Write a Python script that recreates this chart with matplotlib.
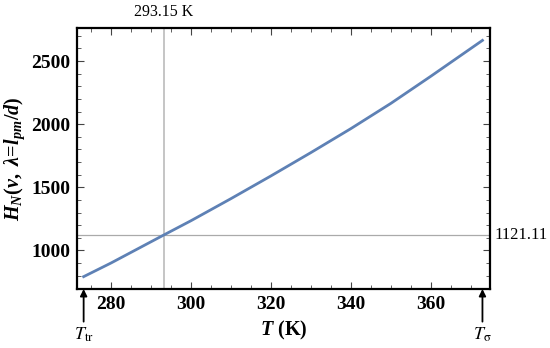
import matplotlib
matplotlib.use("Agg")
import matplotlib.pyplot as plt
from matplotlib.ticker import MultipleLocator

# temperatures (K) and values
T = [273.16, 280, 293.15, 300, 310, 320, 330, 340, 350, 360, 372.9]
H = [792, 900, 1121.11, 1235, 1410, 1590, 1775, 1965, 2165, 2380, 2664]

T_ref = 293.15
H_ref = 1121.11
T_tr = 273.16
T_sigma = 372.9

plt.rcParams["font.family"] = "Liberation Serif"
plt.rcParams["mathtext.fontset"] = "custom"
plt.rcParams["mathtext.rm"] = "Liberation Serif:bold"
plt.rcParams["mathtext.it"] = "Liberation Serif:bold:italic"
plt.rcParams["mathtext.bf"] = "Liberation Serif:bold"

fig = plt.figure(figsize=(5.5, 3.48), dpi=100)
ax = fig.add_axes([0.14, 0.1695, 0.751, 0.75])

ax.axvline(T_ref, color="#bbbbbb", lw=1.2, zorder=1)
ax.axhline(H_ref, color="#aaaaaa", lw=0.9, zorder=1)
ax.plot(T, H, color="#5E81B5", lw=2, zorder=2)

ax.set_xlim(271.5, 374.8)
ax.set_ylim(694, 2762)
ax.xaxis.set_major_locator(MultipleLocator(20))
ax.xaxis.set_minor_locator(MultipleLocator(5))
ax.yaxis.set_major_locator(MultipleLocator(500))
ax.yaxis.set_minor_locator(MultipleLocator(100))
ax.tick_params(which="both", direction="in", top=True, right=True, color="#444444")
ax.tick_params(which="major", length=5, width=0.8, labelsize=14, pad=5)
ax.tick_params(which="minor", length=3, width=0.6)
for lbl in ax.get_xticklabels() + ax.get_yticklabels():
    lbl.set_fontweight("bold")
for s in ax.spines.values():
    s.set_linewidth(1.6)

ax.set_xlabel(r"$T$ (K)", fontsize=14.5, fontweight="bold", labelpad=4)
ax.set_ylabel(r"$H_N(v,\ \lambda\!=\!l_{pm}/d)$", fontsize=14.5, labelpad=3)

# reference labels
ax.text(T_ref, 1.03, "293.15 K", transform=ax.get_xaxis_transform(),
        ha="center", va="bottom", fontsize=11.5)
ax.text(1.01, H_ref, "1121.11", transform=ax.get_yaxis_transform(),
        ha="left", va="center", fontsize=12)

# arrows marking T_tr and T_sigma
tr = ax.get_xaxis_transform()
for tx, lab in [(T_tr, r"$T_{\mathrm{tr}}$"), (T_sigma, r"$T_{\mathrm{\sigma}}$")]:
    ax.annotate("", xy=(tx, 0), xycoords=tr, xytext=(tx, -0.125), textcoords=tr,
                arrowprops=dict(arrowstyle="-|>", color="black", lw=1.3,
                                mutation_scale=10, shrinkA=0, shrinkB=0),
                annotation_clip=False)
    ax.text(tx, -0.14, lab, transform=tr, ha="center", va="top", fontsize=13,
            math_fontfamily="stix")

fig.savefig("out.png", dpi=100)
